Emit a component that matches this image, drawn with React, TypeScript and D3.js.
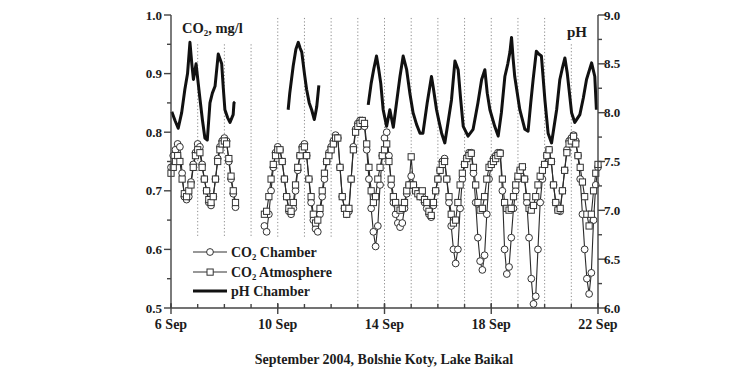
import React from "react";
import * as d3 from "d3";

// CO2 records are every 2 hours: day = index / 12, day 0 = 6 Sep 00:00
const co2StepDays = 1 / 12;

// CO2 in the atmosphere, mg/l (null = no record)
const co2Atmosphere: (number | null)[] = [
  // 6 Sep
  0.73, 0.74, 0.75, 0.76, 0.75, 0.72, 0.695, 0.69, 0.70, 0.71, 0.74, 0.76,
  // 7 Sep
  0.77, 0.765, 0.74, 0.72, 0.70, 0.685, 0.68, 0.69, 0.72, 0.75, 0.77, 0.78,
  // 8 Sep
  0.785, 0.78, 0.755, 0.725, 0.70, 0.68, null, null, null, null, null, null,
  // 9 Sep
  null, null, null, null, null, null, 0.66, 0.665, 0.69, 0.72, 0.745, 0.76,
  // 10 Sep
  0.77, 0.77, 0.75, 0.72, 0.69, 0.67, 0.665, 0.68, 0.71, 0.74, 0.76, 0.77,
  // 11 Sep
  0.775, 0.76, 0.72, 0.69, 0.66, 0.645, 0.65, 0.67, 0.70, 0.73, 0.75, 0.76,
  // 12 Sep
  0.77, 0.78, 0.79, 0.79, 0.74, 0.69, 0.67, 0.66, 0.67, 0.72, 0.77, 0.80,
  // 13 Sep
  0.81, 0.815, 0.82, 0.815, 0.78, 0.74, 0.70, 0.68, 0.69, 0.72, 0.74, 0.76,
  // 14 Sep
  0.77, 0.78, 0.75, 0.72, 0.69, 0.68, 0.67, 0.667, 0.67, 0.68, 0.70, 0.71,
  // 15 Sep
  0.758, 0.71, 0.70, 0.695, 0.69, 0.70, 0.685, 0.68, 0.665, 0.658, 0.68, 0.70,
  // 16 Sep
  0.72, 0.735, 0.745, 0.75, 0.72, 0.69, 0.66, 0.645, 0.65, 0.68, 0.71, 0.73,
  // 17 Sep
  0.745, 0.755, 0.76, 0.764, 0.74, 0.71, 0.68, 0.667, 0.67, 0.69, 0.72, 0.74,
  // 18 Sep
  0.745, 0.75, 0.755, 0.76, 0.764, 0.72, 0.68, 0.67, 0.667, 0.67, 0.69, 0.71,
  // 19 Sep
  0.725, 0.735, 0.741, 0.72, 0.69, 0.67, 0.667, 0.675, 0.69, 0.71, 0.725, 0.735,
  // 20 Sep
  0.745, 0.76, 0.77, 0.75, 0.71, 0.68, 0.667, 0.67, 0.70, 0.735, 0.765, 0.78,
  // 21 Sep
  0.785, 0.793, 0.78, 0.76, 0.74, 0.715, 0.69, 0.66, 0.64, 0.66, 0.70, 0.73,
  // 22 Sep
  0.745,
];

// CO2 in the chamber, mg/l
const co2Chamber: (number | null)[] = [
  0.74, 0.76, 0.77, 0.78, 0.775, 0.73, 0.69, 0.685, 0.69, 0.715, 0.745, 0.765,
  0.78, 0.775, 0.745, 0.72, 0.70, 0.68, 0.675, 0.69, 0.72, 0.755, 0.775, 0.785,
  0.79, 0.785, 0.75, 0.72, 0.695, 0.672, null, null, null, null, null, null,
  null, null, null, null, null, null, 0.64, 0.63, 0.66, 0.70, 0.74, 0.765,
  0.775, 0.77, 0.75, 0.72, 0.69, 0.665, 0.66, 0.67, 0.70, 0.735, 0.76, 0.775,
  0.78, 0.76, 0.72, 0.68, 0.65, 0.635, 0.63, 0.66, 0.69, 0.72, 0.75, 0.765,
  0.775, 0.785, 0.795, 0.79, 0.74, 0.69, 0.67, 0.66, 0.665, 0.72, 0.775, 0.805,
  0.815, 0.82, 0.82, 0.81, 0.77, 0.72, 0.67, 0.63, 0.605, 0.64, 0.71, 0.76,
  0.79, 0.80, 0.76, 0.71, 0.68, 0.66, 0.645, 0.638, 0.645, 0.67, 0.695, 0.71,
  0.725, 0.71, 0.70, 0.70, 0.69, 0.69, 0.68, 0.67, 0.66, 0.655, 0.675, 0.70,
  0.72, 0.735, 0.75, 0.755, 0.72, 0.68, 0.64, 0.60, 0.576, 0.60, 0.67, 0.72,
  0.745, 0.755, 0.765, 0.765, 0.73, 0.68, 0.62, 0.58, 0.565, 0.59, 0.66, 0.72,
  0.745, 0.755, 0.76, 0.765, 0.765, 0.70, 0.60, 0.558, 0.57, 0.62, 0.67, 0.70,
  0.72, 0.735, 0.74, 0.72, 0.68, 0.62, 0.55, 0.507, 0.52, 0.60, 0.68, 0.72,
  0.745, 0.76, 0.77, 0.75, 0.71, 0.68, 0.667, 0.665, 0.70, 0.735, 0.77, 0.785,
  0.79, 0.795, 0.785, 0.76, 0.72, 0.66, 0.60, 0.55, 0.524, 0.56, 0.65, 0.71,
  0.74,
];

// pH in the chamber: [day, pH], a null pH breaks the line
const phChamber: [number, number | null][] = [
  [0.03, 8.01], [0.15, 7.92], [0.27, 7.84], [0.4, 8.0], [0.52, 8.24], [0.62, 8.4],
  [0.71, 8.72], [0.78, 8.5], [0.84, 8.34], [0.94, 8.5], [1.02, 8.3], [1.09, 8.13],
  [1.18, 7.92], [1.27, 7.74], [1.36, 7.72], [1.46, 8.1], [1.55, 8.2], [1.65, 8.27],
  [1.77, 8.6], [1.9, 8.5], [1.96, 8.25], [2.02, 8.03], [2.12, 7.95], [2.21, 7.9],
  [2.33, 7.98], [2.36, 8.1], [2.4, 8.11],
  [3.0, null],
  [4.39, 8.03], [4.45, 8.2], [4.58, 8.48], [4.68, 8.65], [4.77, 8.72], [4.84, 8.66],
  [4.9, 8.62], [5.0, 8.4], [5.08, 8.24], [5.18, 8.1], [5.27, 8.03], [5.37, 7.93],
  [5.42, 8.0], [5.46, 8.06], [5.54, 8.28],
  [6.0, null],
  [7.39, 8.08], [7.5, 8.3], [7.6, 8.45], [7.7, 8.58], [7.78, 8.45], [7.86, 8.3],
  [7.95, 8.03], [8.08, 7.86], [8.2, 8.03], [8.33, 7.85], [8.45, 8.1], [8.58, 8.37],
  [8.7, 8.58], [8.83, 8.44], [8.95, 8.2], [9.07, 8.0], [9.2, 7.88], [9.33, 7.79],
  [9.44, 7.79], [9.6, 8.1], [9.76, 8.37], [9.82, 8.27], [9.95, 8.03], [10.05, 7.9],
  [10.14, 7.79], [10.26, 7.69], [10.38, 7.9], [10.51, 8.13], [10.64, 8.53], [10.76, 8.44],
  [10.85, 8.15], [10.95, 7.86], [11.13, 7.76], [11.32, 7.83], [11.5, 8.1], [11.64, 8.34],
  [11.76, 8.44], [11.85, 8.2], [11.95, 8.03], [12.13, 7.86], [12.26, 7.76], [12.38, 8.0],
  [12.51, 8.37], [12.62, 8.5], [12.7, 8.62], [12.76, 8.77], [12.82, 8.55], [12.88, 8.37],
  [13.07, 8.03], [13.26, 7.83], [13.38, 7.81], [13.48, 8.1], [13.57, 8.34], [13.69, 8.63],
  [13.78, 8.6], [13.88, 8.58], [14.01, 8.13], [14.13, 7.79], [14.26, 7.69], [14.45, 8.03],
  [14.57, 8.34], [14.66, 8.45], [14.76, 8.56], [14.85, 8.4], [15.01, 8.0], [15.13, 7.9],
  [15.32, 7.98], [15.45, 8.15], [15.57, 8.34], [15.76, 8.51], [15.88, 8.37], [15.94, 8.03],
];

// midnight marker lines: day, top and bottom in mg/l
const nightLineDays = [1, 2, 3, 4, 5, 6, 7, 8, 9, 10, 11, 12, 13, 14, 15];
const nightLineTop = [0.95, 0.95, 0.95, 0.995, 0.995, 0.995, 0.995, 0.995, 0.995, 0.995, 0.995, 0.995, 0.995, 0.995, 0.95];
const nightLineBottom = [0.62, 0.62, 0.62, 0.62, 0.62, 0.62, 0.5, 0.5, 0.5, 0.5, 0.5, 0.5, 0.5, 0.5, 0.5];

// axis ticks
const xTickDays = [0, 4, 8, 12, 16];
const xTickLabels = ["6 Sep", "10 Sep", "14 Sep", "18 Sep", "22 Sep"];
const co2Ticks = [0.5, 0.6, 0.7, 0.8, 0.9, 1.0];
const co2TickLabels = ["0.5", "0.6", "0.7", "0.8", "0.9", "1.0"];
const phTicks = [6.0, 6.5, 7.0, 7.5, 8.0, 8.5, 9.0];
const phTickLabels = ["6.0", "6.5", "7.0", "7.5", "8.0", "8.5", "9.0"];

const font = "'Liberation Serif', 'DejaVu Serif', serif";
const ink = "#1c1c1c";

function Co2Label({ x, y, rest, size }: { x: number; y: number; rest: string; size: number }) {
  return (
    <text x={x} y={y} fontSize={size} fontWeight="bold" fill={ink} fontFamily={font}>
      CO
      <tspan fontSize={size * 0.62} dy={3}>2</tspan>
      <tspan dy={-3}>{rest}</tspan>
    </text>
  );
}

export default function App() {
  const width = 753;
  const height = 367;

  const x = d3.scaleLinear().domain([0, 16]).range([171, 598]);
  const yCo2 = d3.scaleLinear().domain([0.5, 1.0]).range([308, 15]);
  const yPh = d3.scaleLinear().domain([6, 9]).range([308, 15]);
  const [x0, x1] = x.range();
  const yBase = yCo2(0.5);

  // line through the CO2 records
  const co2Line = d3.line<number | null>()
    .defined(v => v != null)
    .x((_, i) => x(i * co2StepDays))
    .y(v => yCo2(v as number));

  const phLine = d3.line<[number, number | null]>()
    .defined(d => d[1] != null)
    .x(d => x(d[0]))
    .y(d => yPh(d[1] as number));

  const dayMinor = d3.range(0, 17);
  const co2Minor = d3.range(0.55, 1.0, 0.1);
  const phMinor = d3.range(6.25, 9.0, 0.5);

  return (
    <svg width={width} height={height} style={{ position: "absolute", left: 0, top: 0, background: "#fff" }}>
      {/* dotted midnight lines */}
      <g stroke="#8a8a8a" strokeWidth={1} strokeDasharray="1.2,2.2">
        {nightLineDays.map((d, i) => (
          <line key={d} x1={x(d)} x2={x(d)} y1={yCo2(nightLineTop[i])} y2={yCo2(nightLineBottom[i])} />
        ))}
      </g>

      {/* CO2 chamber */}
      <path d={co2Line(co2Chamber) || ""} fill="none" stroke="#2a2a2a" strokeWidth={1.1} />
      {/* CO2 atmosphere */}
      <path d={co2Line(co2Atmosphere) || ""} fill="none" stroke="#2a2a2a" strokeWidth={1.1} />
      <g fill="#fff" stroke="#333" strokeWidth={1}>
        {co2Chamber.map((v, i) => v == null ? null : (
          <circle key={"c" + i} cx={x(i * co2StepDays)} cy={yCo2(v)} r={3.4} />
        ))}
      </g>
      <g fill="#fff" stroke="#333" strokeWidth={1}>
        {co2Atmosphere.map((v, i) => v == null ? null : (
          <rect key={"a" + i} x={x(i * co2StepDays) - 3.1} y={yCo2(v) - 3.1} width={6.2} height={6.2} />
        ))}
      </g>

      {/* pH chamber */}
      <path d={phLine(phChamber) || ""} fill="none" stroke="#111" strokeWidth={3} strokeLinejoin="round" />

      {/* axes */}
      <g stroke="#444" strokeWidth={1.4}>
        <line x1={x0} x2={x0} y1={yCo2(1.0)} y2={yBase} />
        <line x1={x1} x2={x1} y1={yPh(9.0)} y2={yBase} />
        <line x1={x0} x2={x1} y1={yBase} y2={yBase} />
        {co2Ticks.map(t => <line key={"lt" + t} x1={x0 - 7} x2={x0} y1={yCo2(t)} y2={yCo2(t)} />)}
        {co2Minor.map(t => <line key={"lm" + t} x1={x0 - 4} x2={x0} y1={yCo2(t)} y2={yCo2(t)} />)}
        {phTicks.map(t => <line key={"rt" + t} x1={x1} x2={x1 + 7} y1={yPh(t)} y2={yPh(t)} />)}
        {phMinor.map(t => <line key={"rm" + t} x1={x1} x2={x1 + 4} y1={yPh(t)} y2={yPh(t)} />)}
        {dayMinor.map(d => <line key={"xm" + d} x1={x(d)} x2={x(d)} y1={yBase - 4} y2={yBase} />)}
        {xTickDays.map(d => <line key={"xt" + d} x1={x(d)} x2={x(d)} y1={yBase - 5} y2={yBase + 6} />)}
      </g>

      {/* tick labels */}
      <g fontFamily={font} fontWeight="bold" fontSize={13} fill={ink}>
        {co2Ticks.map((t, i) => (
          <text key={"ll" + t} x={x0 - 9} y={yCo2(t)} dy="0.35em" textAnchor="end">{co2TickLabels[i]}</text>
        ))}
        {phTicks.map((t, i) => (
          <text key={"rl" + t} x={x1 + 6} y={yPh(t)} dy="0.35em" textAnchor="start">{phTickLabels[i]}</text>
        ))}
        {xTickDays.map((d, i) => (
          <text key={"xl" + d} x={x(d)} y={329} fontSize={14} textAnchor="middle">{xTickLabels[i]}</text>
        ))}
      </g>

      {/* axis titles */}
      <Co2Label x={182} y={33} rest=", mg/l" size={14.5} />
      <text x={567} y={37} fontFamily={font} fontWeight="bold" fontSize={15} fill={ink}>pH</text>
      <text x={384} y={364} fontFamily={font} fontWeight="bold" fontSize={14} fill={ink} textAnchor="middle">
        September 2004, Bolshie Koty, Lake Baikal
      </text>

      {/* legend */}
      <g>
        <line x1={193} x2={227} y1={252} y2={252} stroke="#333" strokeWidth={1.2} />
        <circle cx={210} cy={252} r={3.4} fill="#fff" stroke="#333" strokeWidth={1} />
        <Co2Label x={231} y={257} rest=" Chamber" size={14} />
        <line x1={193} x2={227} y1={272} y2={272} stroke="#333" strokeWidth={1.2} />
        <rect x={207} y={269} width={6.2} height={6.2} fill="#fff" stroke="#333" strokeWidth={1} />
        <Co2Label x={231} y={277} rest=" Atmosphere" size={14} />
        <line x1={193} x2={227} y1={291} y2={291} stroke="#111" strokeWidth={3} />
        <text x={231} y={296} fontFamily={font} fontWeight="bold" fontSize={14} fill={ink}>pH Chamber</text>
      </g>
    </svg>
  );
}
